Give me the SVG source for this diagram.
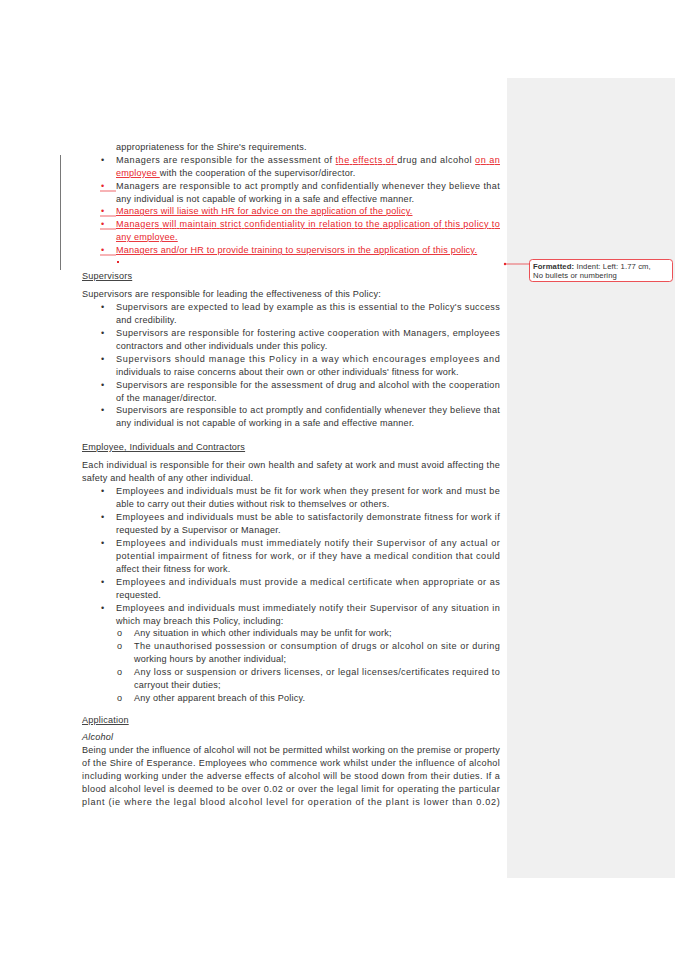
<svg xmlns="http://www.w3.org/2000/svg" width="675" height="955" viewBox="0 0 675 955">
<style>
text{font-family:"Liberation Sans",Arial,sans-serif;font-size:9.1px;fill:#333;letter-spacing:0.2px}
.r{fill:#e8262c;text-decoration:underline}
.u{text-decoration:underline}
</style>
<rect width="675" height="955" fill="#fff"/>
<rect x="507" y="78" width="168" height="800" fill="#f0f0f0"/>
<line x1="60.5" y1="155" x2="60.5" y2="270" stroke="#555" stroke-width="0.8"/>
<g id="balloon">
<line x1="505" y1="264" x2="530" y2="264" stroke="#e8262c" stroke-width="0.7"/>
<circle cx="505" cy="264" r="1.2" fill="#e8262c"/>
<rect x="529.5" y="259.5" width="143" height="22" rx="3" fill="#fff" stroke="#e8262c" stroke-width="0.8"/>
<text x="533" y="269" style="font-size:7.7px;letter-spacing:0.1px"><tspan font-weight="bold">Formatted:</tspan> Indent: Left:  1.77 cm,</text>
<text x="533" y="277.5" style="font-size:7.7px;letter-spacing:0.1px">No bullets or numbering</text>
</g>
<g id="body">
<text x="116" y="150">appropriateness for the Shire's requirements.</text>
<text x="101" y="163">•</text>
<text x="116" y="163" textLength="384" lengthAdjust="spacing">Managers are responsible for the assessment of <tspan class="r">the effects of </tspan>drug and alcohol <tspan class="r">on an</tspan></text>
<text x="116" y="176"><tspan class="r">employee </tspan>with the cooperation of the supervisor/director.</text>
<text x="101" y="189" style="fill:#e8262c">•</text>
<line x1="100" y1="191" x2="116" y2="191" stroke="#e8262c" stroke-width="0.7"/>
<text x="116" y="189" textLength="384" lengthAdjust="spacing">Managers are responsible to act promptly and confidentially whenever they believe that</text>
<text x="116" y="202">any individual is not capable of working in a safe and effective manner.</text>
<text x="101" y="214" style="fill:#e8262c">•</text>
<text x="116" y="214" class="r">Managers will liaise with HR for advice on the application of the policy.</text>
<line x1="100" y1="216" x2="116" y2="216" stroke="#e8262c" stroke-width="0.7"/>
<text x="101" y="227" style="fill:#e8262c">•</text>
<text x="116" y="227" class="r" textLength="384" lengthAdjust="spacing">Managers will maintain strict confidentiality in relation to the application of this policy to</text>
<line x1="100" y1="229" x2="116" y2="229" stroke="#e8262c" stroke-width="0.7"/>
<text x="116" y="240" class="r">any employee.</text>
<text x="101" y="253" style="fill:#e8262c">•</text>
<text x="116" y="253" class="r">Managers and/or HR to provide training to supervisors in the application of this policy.</text>
<line x1="100" y1="255" x2="116" y2="255" stroke="#e8262c" stroke-width="0.7"/>
<rect x="117" y="261" width="2" height="2" fill="#e8262c"/>

<text x="82" y="279" class="u">Supervisors</text>
<text x="82" y="297">Supervisors are responsible for leading the effectiveness of this Policy:</text>
<text x="101" y="310">•</text>
<text x="116" y="310" textLength="384" lengthAdjust="spacing">Supervisors are expected to lead by example as this is essential to the Policy's success</text>
<text x="116" y="323">and credibility.</text>
<text x="101" y="336">•</text>
<text x="116" y="336" textLength="384" lengthAdjust="spacing">Supervisors are responsible for fostering active cooperation with Managers, employees</text>
<text x="116" y="349">contractors and other individuals under this policy.</text>
<text x="101" y="362">•</text>
<text x="116" y="362" textLength="384" lengthAdjust="spacing">Supervisors should manage this Policy in a way which encourages employees and</text>
<text x="116" y="375">individuals to raise concerns about their own or other individuals' fitness for work.</text>
<text x="101" y="388">•</text>
<text x="116" y="388" textLength="384" lengthAdjust="spacing">Supervisors are responsible for the assessment of drug and alcohol with the cooperation</text>
<text x="116" y="401">of the manager/director.</text>
<text x="101" y="413">•</text>
<text x="116" y="413" textLength="384" lengthAdjust="spacing">Supervisors are responsible to act promptly and confidentially whenever they believe that</text>
<text x="116" y="426">any individual is not capable of working in a safe and effective manner.</text>

<text x="82" y="450" class="u">Employee, Individuals and Contractors</text>
<text x="82" y="468" textLength="418" lengthAdjust="spacing">Each individual is responsible for their own health and safety at work and must avoid affecting the</text>
<text x="82" y="481">safety and health of any other individual.</text>
<text x="101" y="494">•</text>
<text x="116" y="494" textLength="384" lengthAdjust="spacing">Employees and individuals must be fit for work when they present for work and must be</text>
<text x="116" y="507">able to carry out their duties without risk to themselves or others.</text>
<text x="101" y="520">•</text>
<text x="116" y="520" textLength="384" lengthAdjust="spacing">Employees and individuals must be able to satisfactorily demonstrate fitness for work if</text>
<text x="116" y="533">requested by a Supervisor or Manager.</text>
<text x="101" y="546">•</text>
<text x="116" y="546" textLength="384" lengthAdjust="spacing">Employees and individuals must immediately notify their Supervisor of any actual or</text>
<text x="116" y="559" textLength="384" lengthAdjust="spacing">potential impairment of fitness for work, or if they have a medical condition that could</text>
<text x="116" y="572">affect their fitness for work.</text>
<text x="101" y="585">•</text>
<text x="116" y="585" textLength="384" lengthAdjust="spacing">Employees and individuals must provide a medical certificate when appropriate  or as</text>
<text x="116" y="598">requested.</text>
<text x="101" y="611">•</text>
<text x="116" y="611" textLength="384" lengthAdjust="spacing">Employees and individuals must immediately notify their Supervisor of any situation in</text>
<text x="116" y="624">which may breach this Policy, including:</text>
<text x="117" y="636">o</text>
<text x="134" y="636">Any situation in which other individuals may be unfit for work;</text>
<text x="117" y="649">o</text>
<text x="134" y="649" textLength="366" lengthAdjust="spacing">The unauthorised possession or consumption of drugs or alcohol  on  site  or  during</text>
<text x="134" y="662">working hours by another individual;</text>
<text x="117" y="675">o</text>
<text x="134" y="675" textLength="366" lengthAdjust="spacing">Any loss or suspension or drivers licenses, or legal licenses/certificates required to</text>
<text x="134" y="688">carryout their duties;</text>
<text x="117" y="701">o</text>
<text x="134" y="701">Any other apparent breach of this Policy.</text>

<text x="82" y="723" class="u">Application</text>
<text x="82" y="740" font-style="italic">Alcohol</text>
<text x="82" y="753" textLength="418" lengthAdjust="spacing">Being under the influence of alcohol will not be permitted whilst working on the premise or property</text>
<text x="82" y="766" textLength="418" lengthAdjust="spacing">of the Shire of Esperance. Employees who commence work whilst under the influence of alcohol</text>
<text x="82" y="779" textLength="418" lengthAdjust="spacing">including  working under the adverse effects of alcohol  will be stood down from their duties.  If a</text>
<text x="82" y="792" textLength="418" lengthAdjust="spacing">blood alcohol level is deemed to be over 0.02 or over the legal limit for operating the particular</text>
<text x="82" y="805" textLength="418" lengthAdjust="spacing">plant (ie where the legal blood alcohol level for operation of the plant is lower than 0.02)</text>
</g>
</svg>
